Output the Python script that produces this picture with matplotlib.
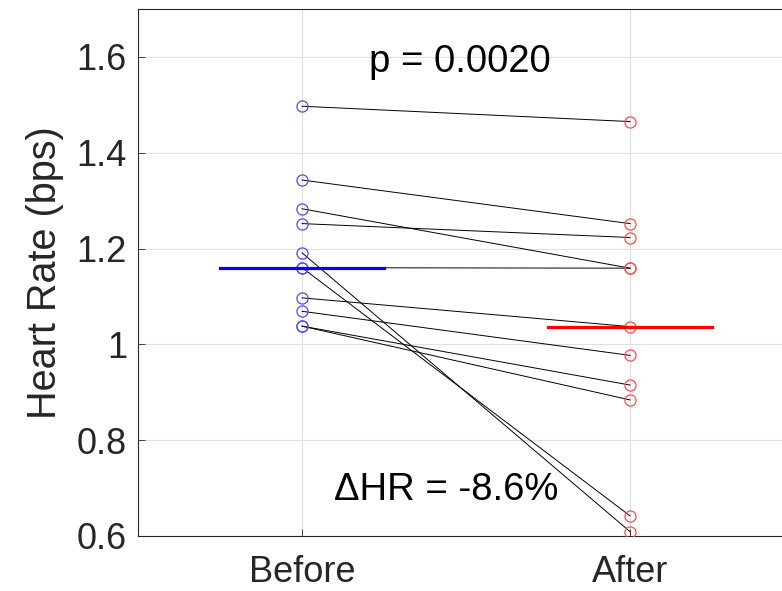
import numpy as np
import matplotlib
matplotlib.use("Agg")
import matplotlib.pyplot as plt

plt.rcParams['font.family'] = ['Liberation Sans', 'DejaVu Sans']

conditions = ["Before", "After"]
hr_before = [1.497, 1.343, 1.283, 1.252, 1.191, 1.160, 1.160, 1.097, 1.069, 1.038, 1.038]
hr_after = [1.465, 1.252, 1.159, 1.223, 0.609, 0.642, 1.159, 1.037, 0.977, 0.915, 0.884]
yticks = [0.6, 0.8, 1.0, 1.2, 1.4, 1.6]
ytick_labels = ["0.6", "0.8", "1", "1.2", "1.4", "1.6"]
p_text = "p = 0.0020"
dhr_text = "\u0394HR = -8.6%"

fig = plt.figure(figsize=(7.82, 5.91), dpi=100)
ax = fig.add_axes([0.1765, 0.0931, 0.8389, 0.8917])

dark = (0.15, 0.15, 0.15)

# paired lines
for b, a in zip(hr_before, hr_after):
    ax.plot([1, 2], [b, a], color="black", lw=0.7, zorder=2)

ax.plot(np.ones(len(hr_before)), hr_before, "o", ms=8, mfc="none",
        mec=(0.3, 0.3, 1.0), mew=0.9, zorder=3)
ax.plot(np.full(len(hr_after), 2), hr_after, "o", ms=8, mfc="none",
        mec=(1.0, 0.3, 0.3), mew=0.9, zorder=3)

# medians
mb = np.median(hr_before)
ma = np.median(hr_after)
ax.plot([0.75, 1.25], [mb, mb], color=(0, 0, 1), lw=2.3, zorder=4)
ax.plot([1.75, 2.25], [ma, ma], color=(1, 0, 0), lw=2.3, zorder=4)

ax.text(1.48, 1.59, p_text, ha="center", va="center", fontsize=27.5, color="black")
ax.text(1.44, 0.696, dhr_text, ha="center", va="center", fontsize=27.5, color="black")

ax.set_xlim(0.5, 2.5)
ax.set_ylim(0.6, 1.7)
ax.set_xticks([1, 2])
ax.set_xticklabels(conditions)
ax.set_yticks(yticks)
ax.set_yticklabels(ytick_labels)
ax.set_ylabel("Heart Rate (bps)", fontsize=28.5, color=dark, labelpad=9)

ax.tick_params(direction="in", length=5, width=0.6, color=dark,
               labelsize=26, labelcolor=dark)
ax.tick_params(axis="x", pad=14)
ax.tick_params(axis="y", pad=8)

ax.grid(True, color=(0.88, 0.88, 0.88), lw=0.8)
ax.set_axisbelow(True)
for s in ax.spines.values():
    s.set_color(dark)
    s.set_linewidth(0.8)

fig.savefig("out.png", dpi=100)
